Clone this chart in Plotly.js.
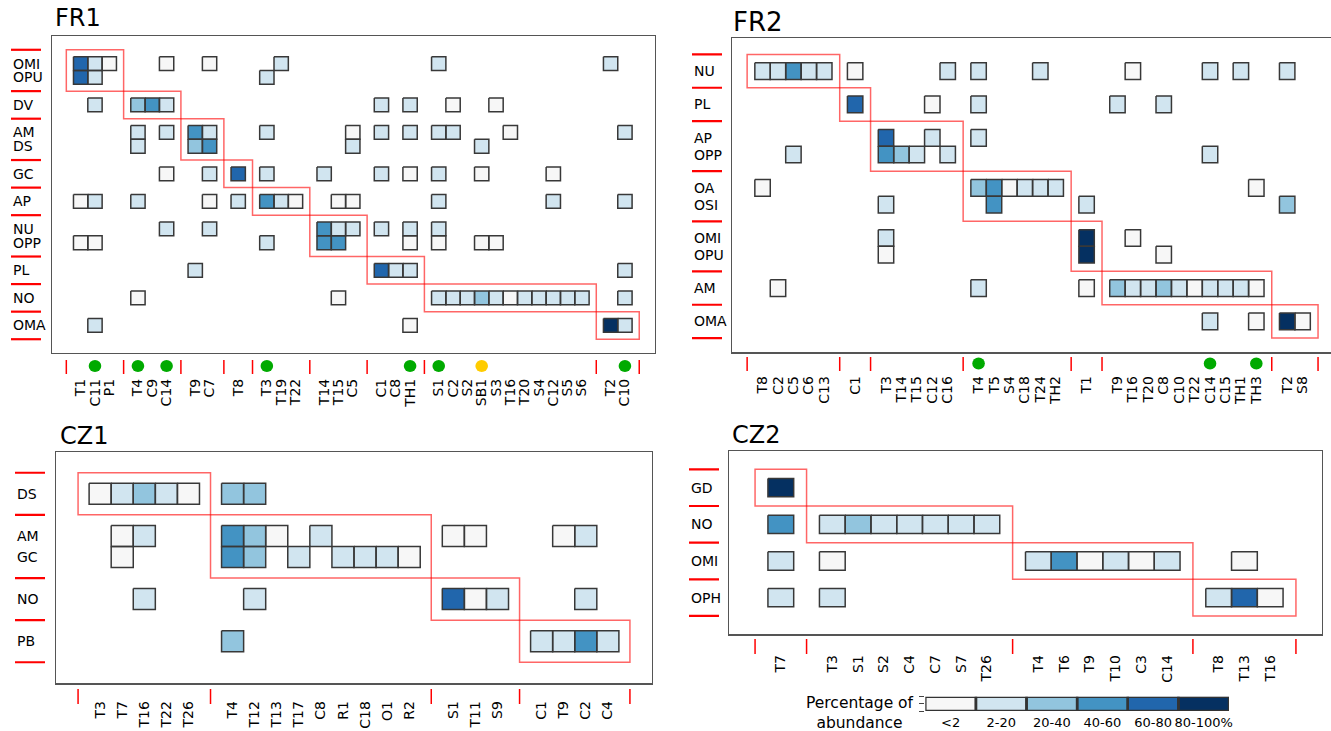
<!DOCTYPE html>
<html><head><meta charset="utf-8">
<script src="https://cdn.plot.ly/plotly-3.0.1.min.js"></script>
<style>html,body{margin:0;padding:0;background:#fff;overflow:hidden}</style>
</head><body><div id="chart" style="width:1331px;height:731px"></div>
<script>
const _ = null;
// ---- abundance classes ----
const levelLabels = ['<2', '2-20', '20-40', '40-60', '60-80', '80-100%'];
const levelColors = ['#f7f7f7', '#d1e5f0', '#92c5de', '#4393c3', '#2166ac', '#053061'];

// ---- FR1 ----
const fr1RowGroups = [['OMI','OPU'],['DV'],['AM','DS'],['GC'],['AP'],['NU','OPP'],['PL'],['NO'],['OMA']];
const fr1ColGroups = [['T1','C11','P1'],['T4','C9','C14'],['T9','C7'],['T8'],['T3','T19','T22'],['T14','T15','C5'],['C1','C8','TH1'],['S1','C2','S2','SB1','S3','T16','T20','S4','C12','S5','S6'],['T2','C10']];
const fr1Levels = [
  [4,1,0, _,_,0, _,0, _, _,1,_, _,_,_, _,_,_, 1,_,_,_,_,_,_,_,_,_,_, 1,_],
  [4,1,_, _,_,_, _,_, _, 1,_,_, _,_,_, _,_,_, _,_,_,_,_,_,_,_,_,_,_, _,_],
  [_,1,_, 2,3,1, _,_, _, _,_,_, _,_,_, 1,_,1, _,0,_,_,0,_,_,_,_,_,_, _,_],
  [_,_,_, 1,_,1, 3,1, _, 1,_,_, _,_,0, 1,_,1, 1,1,_,_,_,0,_,_,_,_,_, _,1],
  [_,_,_, 1,_,_, 2,3, _, _,_,_, _,_,1, _,_,_, _,_,_,1,_,_,_,_,_,_,_, _,_],
  [_,_,_, _,_,0, _,1, 4, 1,_,_, 1,_,_, 1,_,0, 1,_,_,0,_,_,_,_,0,_,_, _,_],
  [0,1,_, 1,_,_, _,0, 1, 3,1,0, _,0,0, _,_,_, 1,_,_,_,_,_,_,_,1,_,_, _,1],
  [_,_,_, _,_,1, _,1, _, _,_,_, 3,1,1, 1,_,1, 1,_,_,_,_,_,_,_,_,_,_, _,_],
  [0,0,_, _,_,_, _,_, _, 1,_,_, 3,3,_, _,_,0, 0,_,_,0,0,_,_,_,_,_,_, _,_],
  [_,_,_, _,_,_, 1,_, _, _,_,_, _,_,_, 4,1,1, _,_,_,_,_,_,_,_,_,_,_, _,1],
  [_,_,_, 0,_,_, _,_, _, _,_,_, _,0,_, _,_,_, 1,1,1,2,1,0,1,1,1,1,1, _,1],
  [_,1,_, _,_,_, _,_, _, _,_,_, _,_,_, _,_,0, _,_,_,_,_,_,_,_,_,_,_, 5,1]
];
const fr1DotLabels = ['C11','T4','C14','T3','TH1','S1','SB1','C10'];
const fr1DotColors = ['#00aa00','#00aa00','#00aa00','#00aa00','#00aa00','#00aa00','#ffcc00','#00aa00'];

// ---- FR2 ----
const fr2RowGroups = [['NU'],['PL'],['AP','OPP'],['OA','OSI'],['OMI','OPU'],['AM'],['OMA']];
const fr2ColGroups = [['T8','C2','C5','C6','C13'],['C1'],['T3','T14','T15','C12','C16'],['T4','T5','S4','C18','T24','TH2'],['T1'],['T9','T16','T20','C8','C10','T22','C14','C15','TH1','TH3'],['T2','S8']];
const fr2Levels = [
  [1,1,3,1,1, 0, _,_,_,_,1, 1,_,_,_,1,_, _, _,0,_,_,_,_,1,_,1,_, 1,_],
  [_,_,_,_,_, 4, _,_,_,0,_, 1,_,_,_,_,_, _, 1,_,_,1,_,_,_,_,_,_, _,_],
  [_,_,_,_,_, _, 4,_,_,1,_, 1,_,_,_,_,_, _, _,_,_,_,_,_,_,_,_,_, _,_],
  [_,_,1,_,_, _, 3,2,1,_,1, _,_,_,_,_,_, _, _,_,_,_,_,_,1,_,_,_, _,_],
  [0,_,_,_,_, _, _,_,_,_,_, 2,3,0,1,1,1, _, _,_,_,_,_,_,_,_,_,0, _,_],
  [_,_,_,_,_, _, 1,_,_,_,_, _,3,_,_,_,_, 1, _,_,_,_,_,_,_,_,_,_, 2,_],
  [_,_,_,_,_, _, 1,_,_,_,_, _,_,_,_,_,_, 5, _,0,_,_,_,_,_,_,_,_, _,_],
  [_,_,_,_,_, _, 0,_,_,_,_, _,_,_,_,_,_, 5, _,_,_,0,_,_,_,_,_,_, _,_],
  [_,0,_,_,_, _, _,_,_,_,_, 1,_,_,_,_,_, 0, 2,1,1,2,1,0,1,1,1,0, _,_],
  [_,_,_,_,_, _, _,_,_,_,_, _,_,_,_,_,_, _, _,_,_,_,_,_,1,_,_,0, 5,0]
];
const fr2DotLabels = ['T4','C14','TH3'];
const fr2DotColors = ['#00aa00','#00aa00','#00aa00'];

// ---- CZ1 ----
const cz1RowGroups = [['DS'],['AM','GC'],['NO'],['PB']];
const cz1ColGroups = [['T3','T7','T16','T22','T26'],['T4','T12','T13','T17','C8','R1','C18','O1','R2'],['S1','T11','S9'],['C1','T9','C2','C4']];
const cz1Levels = [
  [0,1,2,1,0, 2,2,_,_,_,_,_,_,_, _,_,_, _,_,_,_],
  [_,0,1,_,_, 3,2,0,_,1,_,_,_,_, 0,0,_, _,0,1,_],
  [_,0,_,_,_, 3,2,_,1,_,1,1,1,0, _,_,_, _,_,_,_],
  [_,_,1,_,_, _,1,_,_,_,_,_,_,_, 4,0,1, _,_,1,_],
  [_,_,_,_,_, 2,_,_,_,_,_,_,_,_, _,_,_, 1,1,3,1]
];

// ---- CZ2 ----
const cz2RowGroups = [['GD'],['NO'],['OMI'],['OPH']];
const cz2ColGroups = [['T7'],['T3','S1','S2','C4','C7','S7','T26'],['T4','T6','T9','T10','C3','C14'],['T8','T13','T16']];
const cz2Levels = [
  [5, _,_,_,_,_,_,_, _,_,_,_,_,_, _,_,_],
  [3, 1,2,1,1,1,1,1, _,_,_,_,_,_, _,_,_],
  [1, 0,_,_,_,_,_,_, 1,3,0,1,0,1, _,0,_],
  [1, 1,_,_,_,_,_,_, _,_,_,_,_,_, 1,4,0]
];

// ---- page geometry (pixels) ----
const W = 1331, H = 731;
const FONT = 'DejaVu Sans, Verdana, sans-serif';
const panels = [
  {title:'FR1', rows:fr1RowGroups, cols:fr1ColGroups, lev:fr1Levels, dots:fr1DotLabels, dotCol:fr1DotColors,
   box:[52,36,655,353], xr:[-2,40.1], yr:[21,-2], titleX:53, titleY:18.5, titleSize:24,
   rowLabX:11, sepL:[11,41], sepB:[360,374], dotY:366, standoff:19, mirrorY:true},
  {title:'FR2', rows:fr2RowGroups, cols:fr2ColGroups, lev:fr2Levels, dots:fr2DotLabels, dotCol:fr2DotColors,
   box:[731.7,37.7,1331,352.3], xr:[-2,36.84], yr:[16.85,-2], titleX:731, titleY:21.5, titleSize:26,
   rowLabX:691.5, sepL:[692,722], sepB:[357,371], dotY:363.5, standoff:17, mirrorY:false},
  {title:'CZ1', rows:cz1RowGroups, cols:cz1ColGroups, lev:cz1Levels, dots:[], dotCol:[],
   box:[56,451.7,652,683.3], xr:[-2,25], yr:[9,-2], titleX:58, titleY:435.5, titleSize:24,
   rowLabX:14.5, sepL:[15,45], sepB:[689,704], dotY:0, standoff:11, mirrorY:true},
  {title:'CZ2', rows:cz2RowGroups, cols:cz2ColGroups, lev:cz2Levels, dots:[], dotCol:[],
   box:[729.3,451,1321.7,634.3], xr:[-2,21], yr:[8,-2], titleX:730, titleY:435, titleSize:24,
   rowLabX:688.5, sepL:[689,719], sepB:[639,654], dotY:0, standoff:14, mirrorY:true}
];

function layoutSlots(groups){
  const pos=[], labels=[], spans=[]; let p=0;
  groups.forEach(g=>{ const s=p; g.forEach(l=>{labels.push(l); pos.push(p); p++;}); spans.push([s,p-1]); p++; });
  return {pos, labels, spans, n:p-1};
}
function stepScale(){
  const cs=[]; const n=levelColors.length;
  levelColors.forEach((c,i)=>{ cs.push([i/n, c]); cs.push([(i+1)/n, c]); });
  return cs;
}
const colorscale = stepScale();

const traces = [], shapes = [], annotations = [];
const layout = {
  width:W, height:H, margin:{l:0,r:0,t:0,b:0}, paper_bgcolor:'#fff', plot_bgcolor:'#fff',
  showlegend:false, font:{family:FONT, color:'#000'}
};
const RED = '#ff0000';
const BLOCK = 'rgba(255,0,0,0.6)';
const EDGE = '#383838';

panels.forEach((P,k)=>{
  const n = k+1;
  const xa = 'x'+(n===1?'':n), ya = 'y'+(n===1?'':n);
  const xk = 'xaxis'+(n===1?'':n), yk = 'yaxis'+(n===1?'':n);
  const rows = layoutSlots(P.rows), cols = layoutSlots(P.cols);
  const z = [];
  for(let r=0;r<rows.n;r++){ z.push(new Array(cols.n).fill(null)); }
  const ox=[], oy=[];
  P.lev.forEach((row,i)=>row.forEach((v,j)=>{
    if(v===null) return;
    const r=rows.pos[i], c=cols.pos[j];
    z[r][c]=v+0.5;   // class i fills colour band [i, i+1)
    ox.push(c-0.5,c+0.5,c+0.5,c-0.5,c-0.5,null);
    oy.push(r-0.5,r-0.5,r+0.5,r+0.5,r-0.5,null);
  }));
  const xs=[...Array(cols.n).keys()], ys=[...Array(rows.n).keys()];
  traces.push({type:'heatmap', x:xs, y:ys, z:z, xaxis:xa, yaxis:ya, colorscale:colorscale,
    zmin:0, zmax:levelColors.length, showscale:false, hoverinfo:'skip'});
  traces.push({type:'scatter', mode:'lines', x:ox, y:oy, xaxis:xa, yaxis:ya,
    line:{color:EDGE, width:1.5}, hoverinfo:'skip', connectgaps:false});

  // axes
  layout[xk] = {domain:[P.box[0]/W, P.box[2]/W], range:P.xr, anchor:ya,
    showgrid:false, zeroline:false, showline:true, mirror:true, linecolor:'#555', linewidth:1.2,
    tickmode:'array', tickvals:cols.pos, ticktext:cols.labels, tickangle:-90, ticks:'',
    ticklabelstandoff:P.standoff, tickfont:{family:FONT, size:14, color:'#000'}, fixedrange:true};
  layout[yk] = {domain:[1-P.box[3]/H, 1-P.box[1]/H], range:P.yr, anchor:xa,
    showgrid:false, zeroline:false, showline:true, mirror:P.mirrorY, linecolor:'#555', linewidth:1.2,
    showticklabels:false, ticks:'', fixedrange:true};

  // group boxes (red staircase)
  P.rows.forEach((g,gi)=>{
    shapes.push({type:'rect', xref:xa, yref:ya,
      x0:cols.spans[gi][0]-1, x1:cols.spans[gi][1]+1,
      y0:rows.spans[gi][0]-1, y1:rows.spans[gi][1]+1,
      line:{color:BLOCK, width:1.5}, fillcolor:'rgba(0,0,0,0)'});
  });
  // left red separators
  const rb=[-1].concat(rows.spans.map(s=>s[1]+1));
  rb.forEach(v=>shapes.push({type:'line', xref:'paper', yref:ya, x0:P.sepL[0]/W, x1:P.sepL[1]/W, y0:v, y1:v,
    line:{color:RED, width:2.2}}));
  // bottom red separators
  const cb=[-1].concat(cols.spans.map(s=>s[1]+1));
  cb.forEach(v=>shapes.push({type:'line', xref:xa, yref:'paper', x0:v, x1:v, y0:1-P.sepB[0]/H, y1:1-P.sepB[1]/H,
    line:{color:RED, width:1.5}}));
  // row labels
  rows.labels.forEach((l,i)=>annotations.push({text:l, xref:'paper', yref:ya, x:P.rowLabX/W, y:rows.pos[i],
    xanchor:'left', yanchor:'middle', showarrow:false, font:{family:FONT, size:14, color:'#000'}}));
  // title
  annotations.push({text:P.title, xref:'paper', yref:'paper', x:P.titleX/W, y:1-P.titleY/H,
    xanchor:'left', yanchor:'middle', showarrow:false, font:{family:FONT, size:P.titleSize, color:'#000'}});
  // marker dots under some sample labels
  P.dots.forEach((l,i)=>{
    shapes.push({type:'circle', xref:xa, yref:'paper', xsizemode:'pixel', ysizemode:'pixel',
      xanchor:cols.pos[cols.labels.indexOf(l)], yanchor:1-P.dotY/H, x0:-6.3, x1:6.3, y0:-6, y1:6,
      fillcolor:P.dotCol[i], line:{width:0}});
  });
});

// ---- legend (colour key) ----
const lg = [925.3, 696.7, 1229, 711];
const lx=[...levelLabels.keys()];
traces.push({type:'heatmap', x:lx, y:[0], z:[lx.map(v=>v+0.5)], xaxis:'x5', yaxis:'y5',
  colorscale:colorscale, zmin:0, zmax:levelColors.length, showscale:false, hoverinfo:'skip'});
const lox=[], loy=[];
lx.forEach(c=>{ lox.push(c-0.5,c+0.5,c+0.5,c-0.5,c-0.5,null); loy.push(-0.5,-0.5,0.5,0.5,-0.5,null); });
traces.push({type:'scatter', mode:'lines', x:lox, y:loy, xaxis:'x5', yaxis:'y5',
  line:{color:'#333', width:2.5}, hoverinfo:'skip', cliponaxis:false});
layout.xaxis5 = {domain:[lg[0]/W, lg[2]/W], range:[-0.5, lx.length-0.5], anchor:'y5', showgrid:false, zeroline:false,
  showline:false, tickmode:'array', tickvals:lx, ticktext:levelLabels, ticks:'', ticklabelstandoff:2,
  tickfont:{family:FONT, size:13, color:'#000'}, fixedrange:true};
layout.yaxis5 = {domain:[1-lg[3]/H, 1-lg[1]/H], range:[-0.5,0.5], anchor:'x5', showgrid:false, zeroline:false,
  showline:false, showticklabels:false, fixedrange:true};
annotations.push({text:'Percentage of<br>abundance', xref:'paper', yref:'paper', x:860/W, y:1-712.5/H,
  xanchor:'center', yanchor:'middle', align:'center', showarrow:false, font:{family:FONT, size:15.5, color:'#000'}});

layout.shapes = shapes;
layout.annotations = annotations;
Plotly.newPlot('chart', traces, layout, {staticPlot:true, displayModeBar:false});
</script></body></html>
